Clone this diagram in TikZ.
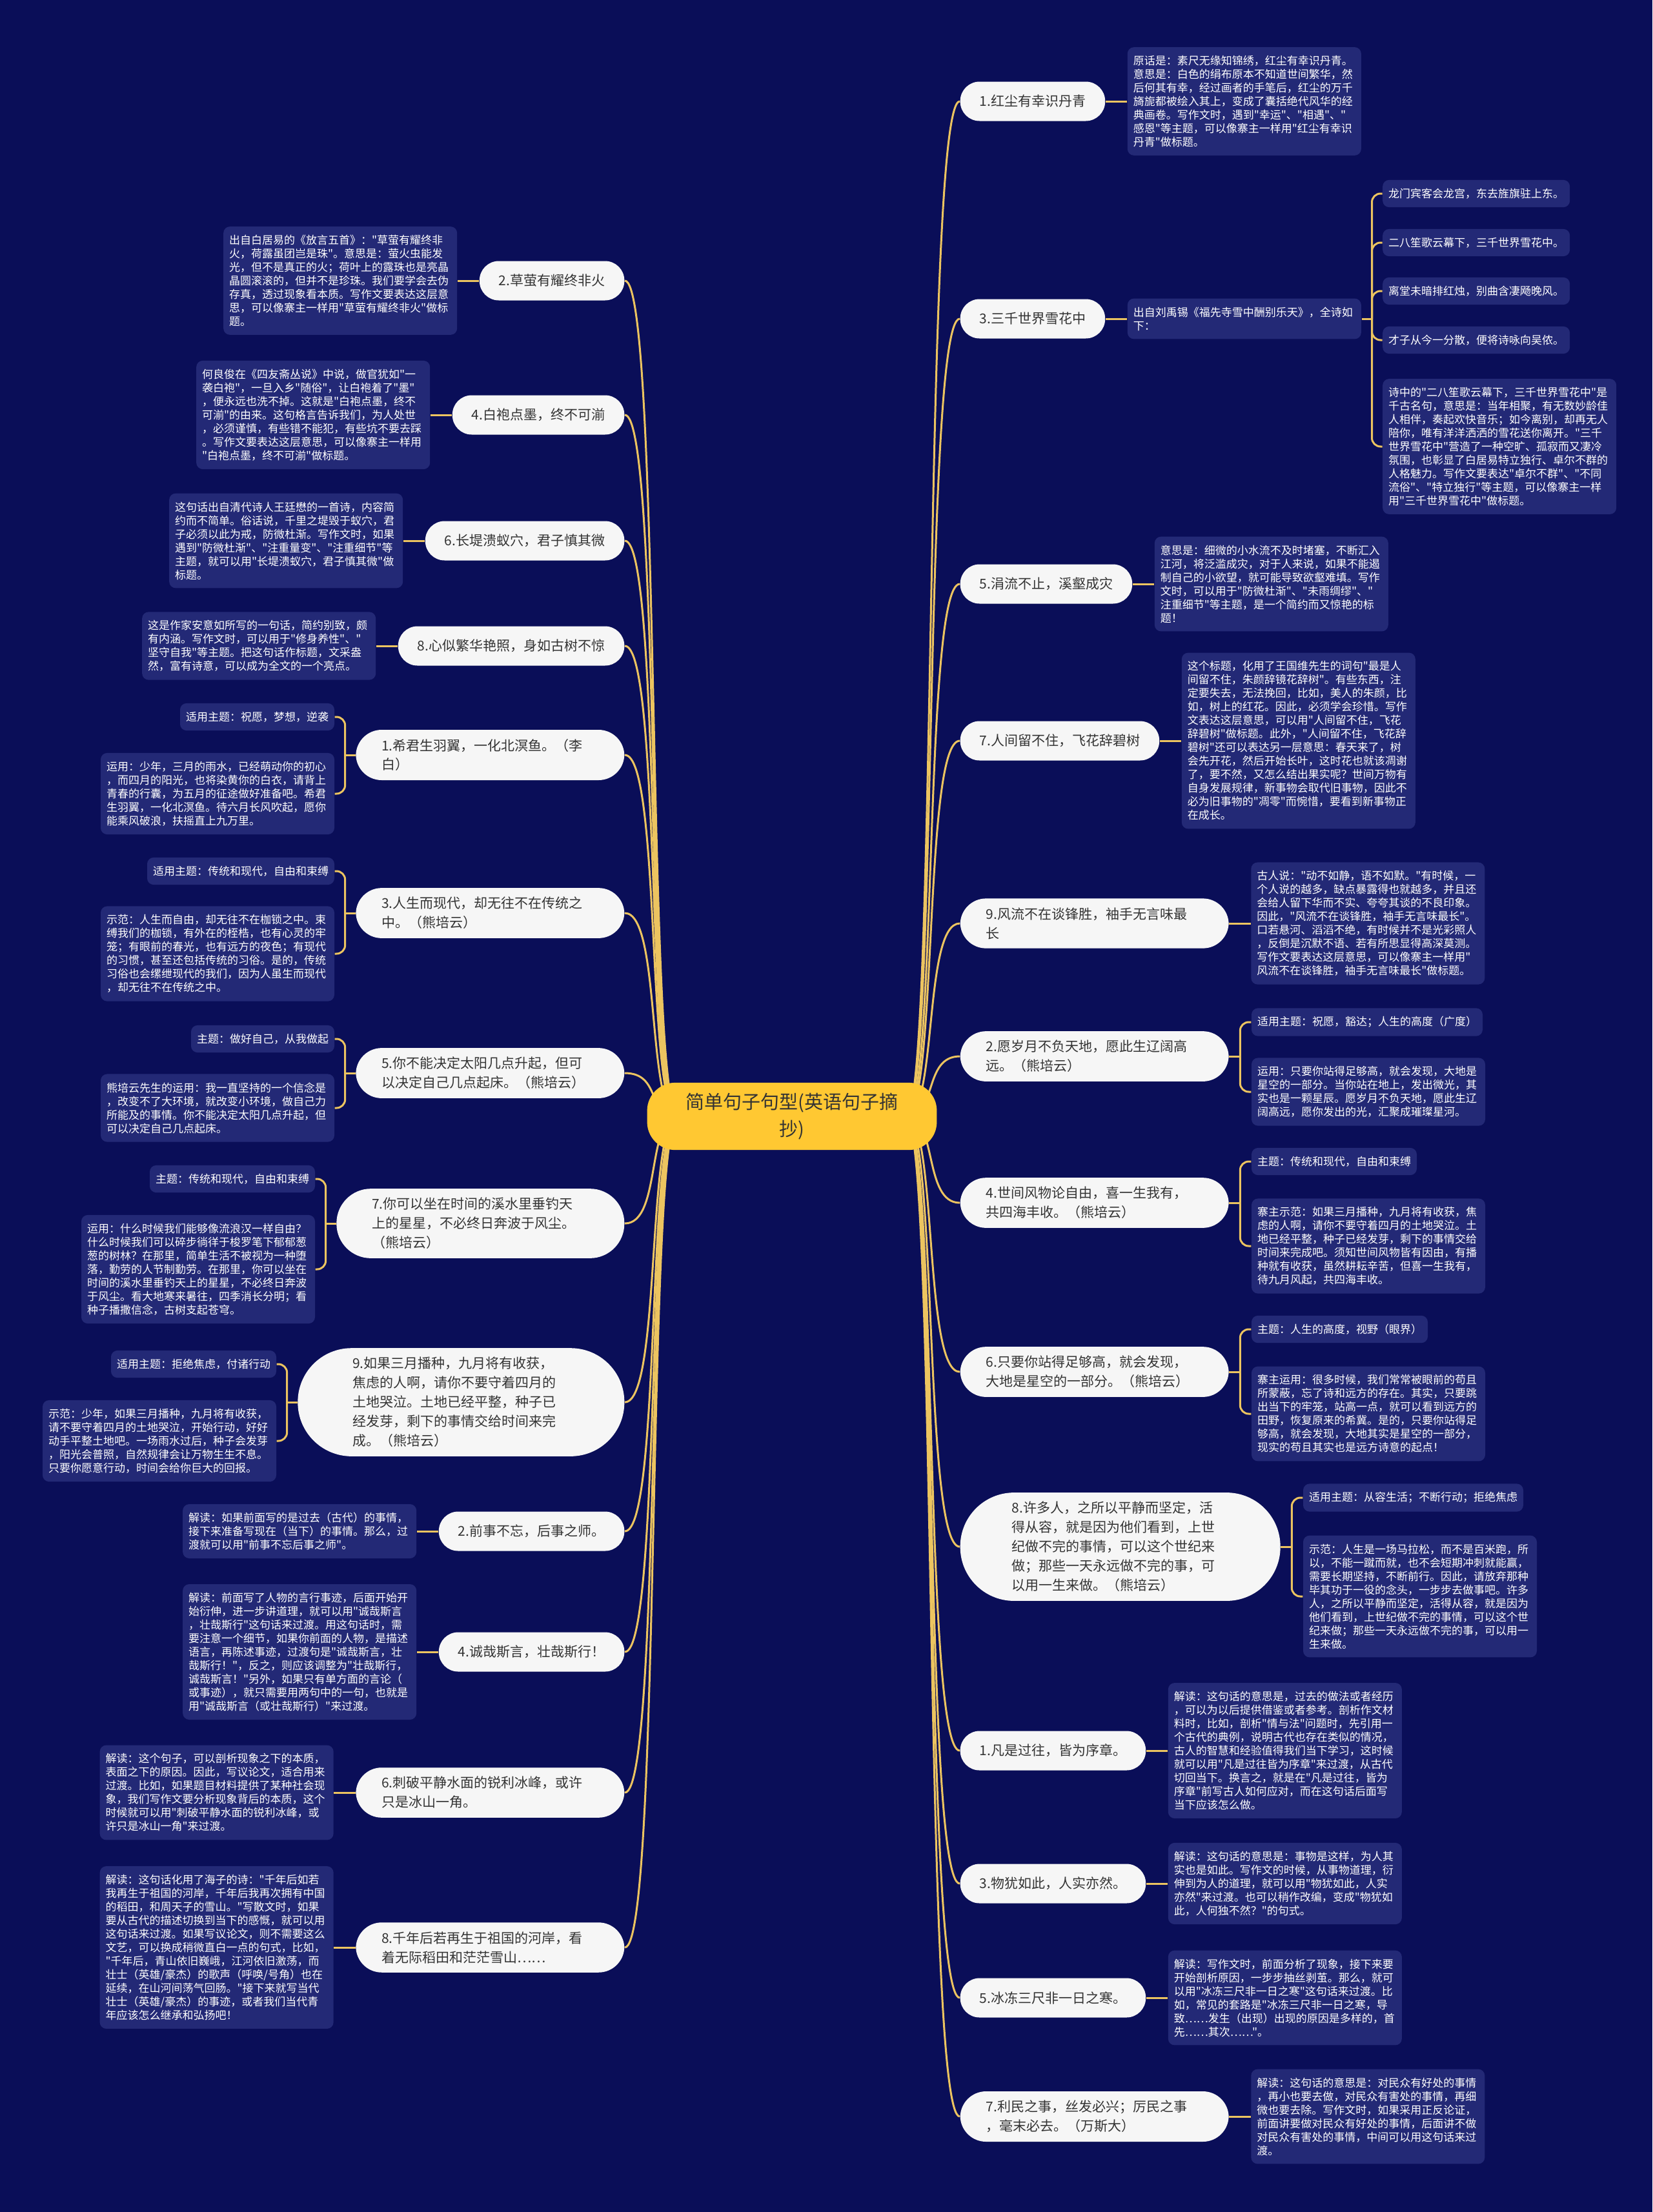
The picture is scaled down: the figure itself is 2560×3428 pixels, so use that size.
\documentclass[tikz,border=0pt]{standalone}
\usepackage{fontspec}
\setmainfont{Noto Sans CJK SC}[Ligatures=TeXOff]
\usetikzlibrary{positioning}
\usetikzlibrary{calc}
\definecolor{navy}{RGB}{10,14,88}
\definecolor{notefill}{RGB}{35,41,118}
\definecolor{gold}{RGB}{236,196,96}
\definecolor{rootfill}{RGB}{255,200,50}
\definecolor{topicfill}{RGB}{246,246,246}
\definecolor{ink}{RGB}{51,51,51}
\pgfdeclarelayer{back}
\pgfdeclarelayer{edges}
\pgfsetlayers{back,edges,main}

\begin{document}
\begin{tikzpicture}[x=0.3pt, y=-0.3pt, node distance=10pt,
    rootnode/.style={fill=rootfill, text=ink, rounded corners=13pt, align=center, inner xsep=18pt, inner ysep=4.8pt, font=\fontsize{8.7}{12.6}\selectfont},
    topicnode/.style={fill=topicfill, text=ink, rounded corners=9pt, align=left, inner xsep=9pt, inner ysep=4.2pt, minimum height=18.3pt, font=\fontsize{6.3}{9}\selectfont},
    twoline/.style={topicnode, text width=100.8pt, inner xsep=12pt, rounded corners=12pt},
    threeline/.style={topicnode, text width=100.8pt, inner xsep=16.5pt, rounded corners=16pt},
    fiveline/.style={topicnode, text width=100.8pt, inner xsep=24pt, rounded corners=25pt},
    notebox/.style={fill=notefill, text=white, rounded corners=3pt, align=left, inner xsep=2.7pt, inner ysep=3.9pt, font=\fontsize{5.1}{6.3}\selectfont},
    wide/.style={text width=103.2pt},
    conn/.style={draw=gold, line width=0.9pt}]

    \begin{pgfonlayer}{back}
    \fill[navy] (0,0) rectangle (2560,3428);
    \end{pgfonlayer}
    \useasboundingbox (0,0) rectangle (2560,3428);

    \node[rootnode] (C) at (1227,1730) {简单句子句型(英语句子摘\\抄)};

    % right side
    \node[topicnode, anchor=west] (R1) at (1487,157) {1.红尘有幸识丹青};
    \node[topicnode, anchor=west] (R3) at (1487,494) {3.三千世界雪花中};
    \node[topicnode, anchor=west] (R5) at (1487,905) {5.涓流不止，溪壑成灾};
    \node[topicnode, anchor=west] (R7) at (1487,1148) {7.人间留不住，飞花辞碧树};
    \node[twoline, anchor=west] (R9) at (1487,1431) {9.风流不在谈锋胜，袖手无言味最\\长};
    \node[twoline, anchor=west] (R2) at (1487,1637) {2.愿岁月不负天地，愿此生辽阔高\\远。（熊培云）};
    \node[twoline, anchor=west] (R4) at (1487,1864) {4.世间风物论自由，喜一生我有，\\共四海丰收。（熊培云）};
    \node[twoline, anchor=west] (R6) at (1487,2126) {6.只要你站得足够高，就会发现，\\大地是星空的一部分。（熊培云）};
    \node[fiveline, anchor=west] (R8) at (1487,2397) {8.许多人，之所以平静而坚定，活\\得从容，就是因为他们看到，上世\\纪做不完的事情，可以这个世纪来\\做；那些一天永远做不完的事，可\\以用一生来做。（熊培云）};
    \node[topicnode, anchor=west] (R1b) at (1487,2713) {1.凡是过往，皆为序章。};
    \node[topicnode, anchor=west] (R3b) at (1487,2919) {3.物犹如此，人实亦然。};
    \node[topicnode, anchor=west] (R5b) at (1487,3096) {5.冰冻三尺非一日之寒。};
    \node[twoline, anchor=west] (R7b) at (1487,3280) {7.利民之事，丝发必兴；厉民之事\\，毫末必去。（万斯大）};

    \node[notebox, wide, right=of R1] (R1t) {原话是：素尺无缘知锦绣，红尘有幸识丹青。\\意思是：白色的绢布原本不知道世间繁华，然\\后何其有幸，经过画者的手笔后，红尘的万千\\旖旎都被绘入其上，变成了囊括绝代风华的经\\典画卷。写作文时，遇到"幸运"、"相遇"、"\\感恩"等主题，可以像寨主一样用"红尘有幸识\\丹青"做标题。};
    \node[notebox, wide, right=of R3] (R3t) {出自刘禹锡《福先寺雪中酬别乐天》，全诗如\\下：};
    \node[notebox, anchor=west] (P1) at ($(R3t.east)+(32,-194)$) {龙门宾客会龙宫，东去旌旗驻上东。};
    \node[notebox, anchor=west] (P2) at ($(R3t.east)+(32,-118)$) {二八笙歌云幕下，三千世界雪花中。};
    \node[notebox, anchor=west] (P3) at ($(R3t.east)+(32,-43)$) {离堂未暗排红烛，别曲含凄飏晚风。};
    \node[notebox, anchor=west] (P4) at ($(R3t.east)+(32,33)$) {才子从今一分散，便将诗咏向吴侬。};
    \node[notebox, wide, anchor=west] (P5) at ($(R3t.east)+(32,198)$) {诗中的"二八笙歌云幕下，三千世界雪花中"是\\千古名句，意思是：当年相聚，有无数妙龄佳\\人相伴，奏起欢快音乐；如今离别，却再无人\\陪你，唯有洋洋洒洒的雪花送你离开。"三千\\世界雪花中"营造了一种空旷、孤寂而又凄冷\\氛围，也彰显了白居易特立独行、卓尔不群的\\人格魅力。写作文要表达"卓尔不群"、"不同\\流俗"、"特立独行"等主题，可以像寨主一样\\用"三千世界雪花中"做标题。};
    \node[notebox, wide, right=of R5] (R5t) {意思是：细微的小水流不及时堵塞，不断汇入\\江河，将泛滥成灾，对于人来说，如果不能遏\\制自己的小欲望，就可能导致欲壑难填。写作\\文时，可以用于"防微杜渐"、"未雨绸缪"、"\\注重细节"等主题，是一个简约而又惊艳的标\\题！};
    \node[notebox, wide, right=of R7] (R7t) {这个标题，化用了王国维先生的词句"最是人\\间留不住，朱颜辞镜花辞树"。有些东西，注\\定要失去，无法挽回，比如，美人的朱颜，比\\如，树上的红花。因此，必须学会珍惜。写作\\文表达这层意思，可以用"人间留不住，飞花\\辞碧树"做标题。此外，"人间留不住，飞花辞\\碧树"还可以表达另一层意思：春天来了，树\\会先开花，然后开始长叶，这时花也就该凋谢\\了，要不然，又怎么结出果实呢？世间万物有\\自身发展规律，新事物会取代旧事物，因此不\\必为旧事物的"凋零"而惋惜，要看到新事物正\\在成长。};
    \node[notebox, wide, right=of R9] (R9t) {古人说："动不如静，语不如默。"有时候，一\\个人说的越多，缺点暴露得也就越多，并且还\\会给人留下华而不实、夸夸其谈的不良印象。\\因此，"风流不在谈锋胜，袖手无言味最长"。\\口若悬河、滔滔不绝，有时候并不是光彩照人\\，反倒是沉默不语、若有所思显得高深莫测。\\写作文要表达这层意思，可以像寨主一样用"\\风流不在谈锋胜，袖手无言味最长"做标题。};
    \node[notebox, anchor=west] (R2a) at ($(R2.east)+(34,-53)$) {适用主题：祝愿，豁达；人生的高度（广度）};
    \node[notebox, wide, anchor=west] (R2b) at ($(R2.east)+(34,55)$) {运用：只要你站得足够高，就会发现，大地是\\星空的一部分。当你站在地上，发出微光，其\\实也是一颗星辰。愿岁月不负天地，愿此生辽\\阔高远，愿你发出的光，汇聚成璀璨星河。};
    \node[notebox, anchor=west] (R4a) at ($(R4.east)+(34,-64)$) {主题：传统和现代，自由和束缚};
    \node[notebox, wide, anchor=west] (R4b) at ($(R4.east)+(34,67)$) {寨主示范：如果三月播种，九月将有收获，焦\\虑的人啊，请你不要守着四月的土地哭泣。土\\地已经平整，种子已经发芽，剩下的事情交给\\时间来完成吧。须知世间风物皆有因由，有播\\种就有收获，虽然耕耘辛苦，但喜一生我有，\\待九月风起，共四海丰收。};
    \node[notebox, anchor=west] (R6a) at ($(R6.east)+(34,-66)$) {主题：人生的高度，视野（眼界）};
    \node[notebox, wide, anchor=west] (R6b) at ($(R6.east)+(34,65)$) {寨主运用：很多时候，我们常常被眼前的苟且\\所蒙蔽，忘了诗和远方的存在。其实，只要跳\\出当下的牢笼，站高一点，就可以看到远方的\\田野，恢复原来的希冀。是的，只要你站得足\\够高，就会发现，大地其实是星空的一部分，\\现实的苟且其实也是远方诗意的起点！};
    \node[notebox, anchor=west] (R8a) at ($(R8.east)+(34,-76)$) {适用主题：从容生活；不断行动；拒绝焦虑};
    \node[notebox, wide, anchor=west] (R8b) at ($(R8.east)+(34,77)$) {示范：人生是一场马拉松，而不是百米跑，所\\以，不能一蹴而就，也不会短期冲刺就能赢，\\需要长期坚持，不断前行。因此，请放弃那种\\毕其功于一役的念头，一步步去做事吧。许多\\人，之所以平静而坚定，活得从容，就是因为\\他们看到，上世纪做不完的事情，可以这个世\\纪来做；那些一天永远做不完的事，可以用一\\生来做。};
    \node[notebox, wide, right=of R1b] (R1bt) {解读：这句话的意思是，过去的做法或者经历\\，可以为以后提供借鉴或者参考。剖析作文材\\料时，比如，剖析"情与法"问题时，先引用一\\个古代的典例，说明古代也存在类似的情况，\\古人的智慧和经验值得我们当下学习，这时候\\就可以用"凡是过往皆为序章"来过渡，从古代\\切回当下。换言之，就是在"凡是过往，皆为\\序章"前写古人如何应对，而在这句话后面写\\当下应该怎么做。};
    \node[notebox, wide, right=of R3b] (R3bt) {解读：这句话的意思是：事物是这样，为人其\\实也是如此。写作文的时候，从事物道理，衍\\伸到为人的道理，就可以用"物犹如此，人实\\亦然"来过渡。也可以稍作改编，变成"物犹如\\此，人何独不然？"的句式。};
    \node[notebox, wide, right=of R5b] (R5bt) {解读：写作文时，前面分析了现象，接下来要\\开始剖析原因，一步步抽丝剥茧。那么，就可\\以用"冰冻三尺非一日之寒"这句话来过渡。比\\如，常见的套路是"冰冻三尺非一日之寒，导\\致……发生（出现）出现的原因是多样的，首\\先……其次……"。};
    \node[notebox, wide, right=of R7b] (R7bt) {解读：这句话的意思是：对民众有好处的事情\\，再小也要去做，对民众有害处的事情，再细\\微也要去除。写作文时，如果采用正反论证，\\前面讲要做对民众有好处的事情，后面讲不做\\对民众有害处的事情，中间可以用这句话来过\\渡。};

    % left side
    \node[topicnode, anchor=east] (L2) at (968,435) {2.草萤有耀终非火};
    \node[topicnode, anchor=east] (L4) at (968,643) {4.白袍点墨，终不可湔};
    \node[topicnode, anchor=east] (L6) at (968,838) {6.长堤溃蚁穴，君子慎其微};
    \node[topicnode, anchor=east] (L8) at (968,1001) {8.心似繁华艳照，身如古树不惊};
    \node[twoline, anchor=east] (L1) at (968,1170) {1.希君生羽翼，一化北溟鱼。（李\\白）};
    \node[twoline, anchor=east] (L3) at (968,1415) {3.人生而现代，却无往不在传统之\\中。（熊培云）};
    \node[twoline, anchor=east] (L5) at (968,1663) {5.你不能决定太阳几点升起，但可\\以决定自己几点起床。（熊培云）};
    \node[threeline, anchor=east] (L7) at (968,1896) {7.你可以坐在时间的溪水里垂钓天\\上的星星，不必终日奔波于风尘。\\（熊培云）};
    \node[fiveline, anchor=east, inner xsep=25.5pt] (L9) at (968,2173) {9.如果三月播种，九月将有收获，\\焦虑的人啊，请你不要守着四月的\\土地哭泣。土地已经平整，种子已\\经发芽，剩下的事情交给时间来完\\成。（熊培云）};
    \node[topicnode, anchor=east] (L2b) at (968,2373) {2.前事不忘，后事之师。};
    \node[topicnode, anchor=east] (L4b) at (968,2560) {4.诚哉斯言，壮哉斯行！};
    \node[twoline, anchor=east] (L6b) at (968,2778) {6.刺破平静水面的锐利冰峰，或许\\只是冰山一角。};
    \node[twoline, anchor=east] (L8b) at (968,3018) {8.千年后若再生于祖国的河岸，看\\着无际稻田和茫茫雪山……};

    \node[notebox, wide, left=of L2] (L2t) {出自白居易的《放言五首》："草萤有耀终非\\火，荷露虽团岂是珠"。意思是：萤火虫能发\\光，但不是真正的火；荷叶上的露珠也是亮晶\\晶圆滚滚的，但并不是珍珠。我们要学会去伪\\存真，透过现象看本质。写作文要表达这层意\\思，可以像寨主一样用"草萤有耀终非火"做标\\题。};
    \node[notebox, wide, left=of L4] (L4t) {何良俊在《四友斋丛说》中说，做官犹如"一\\袭白袍"，一旦入乡"随俗"，让白袍着了"墨"\\，便永远也洗不掉。这就是"白袍点墨，终不\\可湔"的由来。这句格言告诉我们，为人处世\\，必须谨慎，有些错不能犯，有些坑不要去踩\\。写作文要表达这层意思，可以像寨主一样用\\"白袍点墨，终不可湔"做标题。};
    \node[notebox, wide, left=of L6] (L6t) {这句话出自清代诗人王廷懋的一首诗，内容简\\约而不简单。俗话说，千里之堤毁于蚁穴，君\\子必须以此为戒，防微杜渐。写作文时，如果\\遇到"防微杜渐"、"注重量变"、"注重细节"等\\主题，就可以用"长堤溃蚁穴，君子慎其微"做\\标题。};
    \node[notebox, wide, left=of L8] (L8t) {这是作家安意如所写的一句话，简约别致，颇\\有内涵。写作文时，可以用于"修身养性"、"\\坚守自我"等主题。把这句话作标题，文采盎\\然，富有诗意，可以成为全文的一个亮点。};
    \node[notebox, anchor=east] (L1a) at ($(L1.west)+(-32,-59)$) {适用主题：祝愿，梦想，逆袭};
    \node[notebox, wide, anchor=east] (L1b) at ($(L1.west)+(-32,60)$) {运用：少年，三月的雨水，已经萌动你的初心\\，而四月的阳光，也将染黄你的白衣，请背上\\青春的行囊，为五月的征途做好准备吧。希君\\生羽翼，一化北溟鱼。待六月长风吹起，愿你\\能乘风破浪，扶摇直上九万里。};
    \node[notebox, anchor=east] (L3a) at ($(L3.west)+(-32,-65)$) {适用主题：传统和现代，自由和束缚};
    \node[notebox, wide, anchor=east] (L3b) at ($(L3.west)+(-32,63)$) {示范：人生而自由，却无往不在枷锁之中。束\\缚我们的枷锁，有外在的桎梏，也有心灵的牢\\笼；有眼前的春光，也有远方的夜色；有现代\\的习惯，甚至还包括传统的习俗。是的，传统\\习俗也会缧绁现代的我们，因为人虽生而现代\\，却无往不在传统之中。};
    \node[notebox, anchor=east] (L5a) at ($(L5.west)+(-32,-53)$) {主题：做好自己，从我做起};
    \node[notebox, wide, anchor=east] (L5b) at ($(L5.west)+(-32,54)$) {熊培云先生的运用：我一直坚持的一个信念是\\，改变不了大环境，就改变小环境，做自己力\\所能及的事情。你不能决定太阳几点升起，但\\可以决定自己几点起床。};
    \node[notebox, anchor=east] (L7a) at ($(L7.west)+(-32,-69)$) {主题：传统和现代，自由和束缚};
    \node[notebox, wide, anchor=east] (L7b) at ($(L7.west)+(-32,71)$) {运用：什么时候我们能够像流浪汉一样自由？\\什么时候我们可以碎步徜徉于梭罗笔下郁郁葱\\葱的树林？在那里，简单生活不被视为一种堕\\落，勤劳的人节制勤劳。在那里，你可以坐在\\时间的溪水里垂钓天上的星星，不必终日奔波\\于风尘。看大地寒来暑往，四季消长分明；看\\种子播撒信念，古树支起苍穹。};
    \node[notebox, anchor=east] (L9a) at ($(L9.west)+(-32,-59)$) {适用主题：拒绝焦虑，付诸行动};
    \node[notebox, wide, anchor=east] (L9b) at ($(L9.west)+(-32,60)$) {示范：少年，如果三月播种，九月将有收获，\\请不要守着四月的土地哭泣，开始行动，好好\\动手平整土地吧。一场雨水过后，种子会发芽\\，阳光会普照，自然规律会让万物生生不息。\\只要你愿意行动，时间会给你巨大的回报。};
    \node[notebox, wide, left=of L2b] (L2bt) {解读：如果前面写的是过去（古代）的事情，\\接下来准备写现在（当下）的事情。那么，过\\渡就可以用"前事不忘后事之师"。};
    \node[notebox, wide, left=of L4b] (L4bt) {解读：前面写了人物的言行事迹，后面开始开\\始衍伸，进一步讲道理，就可以用"诚哉斯言\\，壮哉斯行"这句话来过渡。用这句话时，需\\要注意一个细节，如果你前面的人物，是描述\\语言，再陈述事迹，过渡句是"诚哉斯言，壮\\哉斯行！"，反之，则应该调整为"壮哉斯行，\\诚哉斯言！"另外，如果只有单方面的言论（\\或事迹），就只需要用两句中的一句，也就是\\用"诚哉斯言（或壮哉斯行）"来过渡。};
    \node[notebox, wide, left=of L6b] (L6bt) {解读：这个句子，可以剖析现象之下的本质，\\表面之下的原因。因此，写议论文，适合用来\\过渡。比如，如果题目材料提供了某种社会现\\象，我们写作文要分析现象背后的本质，这个\\时候就可以用"刺破平静水面的锐利冰峰，或\\许只是冰山一角"来过渡。};
    \node[notebox, wide, left=of L8b] (L8bt) {解读：这句话化用了海子的诗："千年后如若\\我再生于祖国的河岸，千年后我再次拥有中国\\的稻田，和周天子的雪山。"写散文时，如果\\要从古代的描述切换到当下的感慨，就可以用\\这句话来过渡。如果写议论文，则不需要这么\\文艺，可以换成稍微直白一点的句式，比如，\\"千年后，青山依旧巍峨，江河依旧激荡，而\\壮士（英雄/豪杰）的歌声（呼唤/号角）也在\\延续，在山河间荡气回肠。"接下来就写当代\\壮士（英雄/豪杰）的事迹，或者我们当代青\\年应该怎么继承和弘扬吧！};

    \begin{pgfonlayer}{edges}
    \coordinate (hubR) at ($(C.east)+(-49,0)$);
    \coordinate (hubL) at ($(C.west)+(49,0)$);

    \draw[conn] (hubR) .. controls +(50,0) and +(-57,0) .. (R1.west);
    \draw[conn] (hubR) .. controls +(50,0) and +(-57,0) .. (R3.west);
    \draw[conn] (hubR) .. controls +(50,0) and +(-57,0) .. (R5.west);
    \draw[conn] (hubR) .. controls +(50,0) and +(-57,0) .. (R7.west);
    \draw[conn] (hubR) .. controls +(50,0) and +(-57,0) .. (R9.west);
    \draw[conn] (hubR) .. controls +(50,0) and +(-57,0) .. (R2.west);
    \draw[conn] (hubR) .. controls +(50,0) and +(-57,0) .. (R4.west);
    \draw[conn] (hubR) .. controls +(50,0) and +(-57,0) .. (R6.west);
    \draw[conn] (hubR) .. controls +(50,0) and +(-57,0) .. (R8.west);
    \draw[conn] (hubR) .. controls +(50,0) and +(-57,0) .. (R1b.west);
    \draw[conn] (hubR) .. controls +(50,0) and +(-57,0) .. (R3b.west);
    \draw[conn] (hubR) .. controls +(50,0) and +(-57,0) .. (R5b.west);
    \draw[conn] (hubR) .. controls +(50,0) and +(-57,0) .. (R7b.west);

    \draw[conn] (hubL) .. controls +(-50,0) and +(57,0) .. (L2.east);
    \draw[conn] (hubL) .. controls +(-50,0) and +(57,0) .. (L4.east);
    \draw[conn] (hubL) .. controls +(-50,0) and +(57,0) .. (L6.east);
    \draw[conn] (hubL) .. controls +(-50,0) and +(57,0) .. (L8.east);
    \draw[conn] (hubL) .. controls +(-50,0) and +(57,0) .. (L1.east);
    \draw[conn] (hubL) .. controls +(-50,0) and +(57,0) .. (L3.east);
    \draw[conn] (hubL) .. controls +(-50,0) and +(57,0) .. (L5.east);
    \draw[conn] (hubL) .. controls +(-50,0) and +(57,0) .. (L7.east);
    \draw[conn] (hubL) .. controls +(-50,0) and +(57,0) .. (L9.east);
    \draw[conn] (hubL) .. controls +(-50,0) and +(57,0) .. (L2b.east);
    \draw[conn] (hubL) .. controls +(-50,0) and +(57,0) .. (L4b.east);
    \draw[conn] (hubL) .. controls +(-50,0) and +(57,0) .. (L6b.east);
    \draw[conn] (hubL) .. controls +(-50,0) and +(57,0) .. (L8b.east);

    \draw[conn] (R1) -- (R1t);
    \draw[conn] (R3) -- (R3t);
    \draw[conn] (R5) -- (R5t);
    \draw[conn] (R7) -- (R7t);
    \draw[conn] (R9) -- (R9t);
    \draw[conn] (R1b) -- (R1bt);
    \draw[conn] (R3b) -- (R3bt);
    \draw[conn] (R5b) -- (R5bt);
    \draw[conn] (R7b) -- (R7bt);
    \draw[conn] (L2) -- (L2t);
    \draw[conn] (L4) -- (L4t);
    \draw[conn] (L6) -- (L6t);
    \draw[conn] (L8) -- (L8t);
    \draw[conn] (L2b) -- (L2bt);
    \draw[conn] (L4b) -- (L4bt);
    \draw[conn] (L6b) -- (L6bt);
    \draw[conn] (L8b) -- (L8bt);

    \draw[conn] (R3t.east) -- ++(16,0) coordinate (R3j);
    \draw[conn, rounded corners=4pt] (R3j) |- (P1.west);
    \draw[conn, rounded corners=4pt] (R3j) |- (P2.west);
    \draw[conn, rounded corners=4pt] (R3j) |- (P3.west);
    \draw[conn, rounded corners=4pt] (R3j) |- (P4.west);
    \draw[conn, rounded corners=4pt] (R3j) |- (P5.west);

    \draw[conn] (R2.east) -- ++(17,0) coordinate (R2j);
    \draw[conn, rounded corners=4pt] (R2j) |- (R2a.west);
    \draw[conn, rounded corners=4pt] (R2j) |- (R2b.west);
    \draw[conn] (R4.east) -- ++(17,0) coordinate (R4j);
    \draw[conn, rounded corners=4pt] (R4j) |- (R4a.west);
    \draw[conn, rounded corners=4pt] (R4j) |- (R4b.west);
    \draw[conn] (R6.east) -- ++(17,0) coordinate (R6j);
    \draw[conn, rounded corners=4pt] (R6j) |- (R6a.west);
    \draw[conn, rounded corners=4pt] (R6j) |- (R6b.west);
    \draw[conn] (R8.east) -- ++(17,0) coordinate (R8j);
    \draw[conn, rounded corners=4pt] (R8j) |- (R8a.west);
    \draw[conn, rounded corners=4pt] (R8j) |- (R8b.west);

    \draw[conn] (L1.west) -- ++(-16,0) coordinate (L1j);
    \draw[conn, rounded corners=4pt] (L1j) |- (L1a.east);
    \draw[conn, rounded corners=4pt] (L1j) |- (L1b.east);
    \draw[conn] (L3.west) -- ++(-16,0) coordinate (L3j);
    \draw[conn, rounded corners=4pt] (L3j) |- (L3a.east);
    \draw[conn, rounded corners=4pt] (L3j) |- (L3b.east);
    \draw[conn] (L5.west) -- ++(-16,0) coordinate (L5j);
    \draw[conn, rounded corners=4pt] (L5j) |- (L5a.east);
    \draw[conn, rounded corners=4pt] (L5j) |- (L5b.east);
    \draw[conn] (L7.west) -- ++(-16,0) coordinate (L7j);
    \draw[conn, rounded corners=4pt] (L7j) |- (L7a.east);
    \draw[conn, rounded corners=4pt] (L7j) |- (L7b.east);
    \draw[conn] (L9.west) -- ++(-16,0) coordinate (L9j);
    \draw[conn, rounded corners=4pt] (L9j) |- (L9a.east);
    \draw[conn, rounded corners=4pt] (L9j) |- (L9b.east);
    \end{pgfonlayer}
\end{tikzpicture}
\end{document}
